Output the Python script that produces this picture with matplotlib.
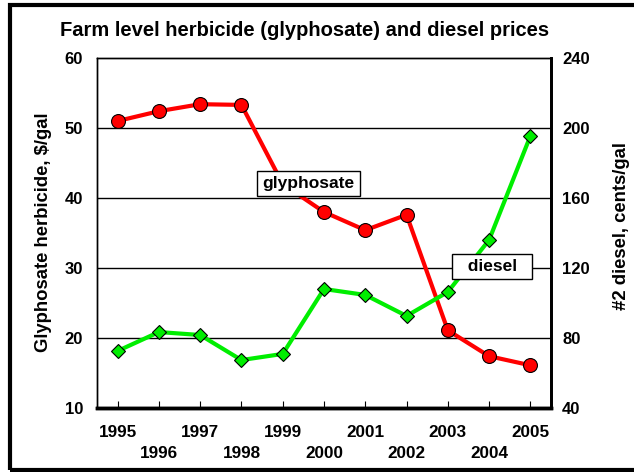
import numpy as np
import matplotlib.pyplot as plt
from matplotlib.patches import Rectangle

# Data
years = [1995, 1996, 1997, 1998, 1999, 2000, 2001, 2002, 2003, 2004, 2005]
glyphosate = [51.0, 52.4, 53.4, 53.3, 42.0, 38.0, 35.4, 37.6, 21.1, 17.4, 16.1]
diesel = [72.6, 83.4, 81.7, 67.4, 70.9, 108.0, 104.6, 92.6, 106.3, 136.0, 195.4]

plt.rcParams['font.family'] = ['Liberation Sans', 'DejaVu Sans']
plt.rcParams['font.weight'] = 'bold'

fig = plt.figure(figsize=(6.34, 4.72), dpi=100)
ax = fig.add_axes([97 / 634, 1 - 408 / 472, 454 / 634, 350 / 472])
ax2 = ax.twinx()

# Gridlines (left axis)
ax.set_ylim(10, 60)
ax.set_yticks([10, 20, 30, 40, 50, 60])
for v in [20, 30, 40, 50]:
    ax.axhline(v, color='black', lw=1, zorder=1)

ax.set_xlim(1994.5, 2005.5)
ax.set_xticks(years)
ax.set_xticklabels([])
ax.tick_params(axis='x', direction='in', length=5, width=0.8)
ax.tick_params(axis='y', length=0, labelsize=12, pad=10)

# Staggered year labels
for i, yr in enumerate(years):
    yy = -0.071 if i % 2 == 0 else -0.131
    ax.text(yr, yy, str(yr), transform=ax.get_xaxis_transform(),
            ha='center', va='center', fontsize=12.3, fontweight='bold')

ax2.set_ylim(40, 240)
ax2.set_yticks([40, 80, 120, 160, 200, 240])
ax2.tick_params(axis='y', length=0, labelsize=12, pad=8)

ax.plot(years, glyphosate, color='#ff0000', lw=3, marker='o', ms=10,
        mfc='#ff0000', mec='black', mew=0.8, zorder=3)
ax2.plot(years, diesel, color='#00ee00', lw=3, marker='D', ms=7,
         mfc='#00ee00', mec='black', mew=0.8, zorder=3)
ax.set_zorder(ax2.get_zorder() - 1)
ax.patch.set_visible(True)
ax2.patch.set_visible(False)

for a in (ax, ax2):
    a.spines['left'].set_linewidth(1)
    a.spines['top'].set_linewidth(1)
    a.spines['right'].set_linewidth(2)
    a.spines['bottom'].set_linewidth(2.5)

# Series labels
ax.text(1999.62, 42.1, 'glyphosate', fontsize=12.5, fontweight='bold',
        ha='center', va='center', zorder=5,
        bbox=dict(boxstyle='square,pad=0.3', fc='white', ec='black', lw=1))
ax2.text(2004.07, 120.9, '  diesel  ', fontsize=12.5, fontweight='bold',
         ha='center', va='center', zorder=5,
         bbox=dict(boxstyle='square,pad=0.3', fc='white', ec='black', lw=1))

fig.text(305 / 634, 1 - 31 / 472, 'Farm level herbicide (glyphosate) and diesel prices',
         ha='center', va='center', fontsize=14.5, fontweight='bold')
fig.text(44 / 634, 1 - 232.5 / 472, 'Glyphosate herbicide, $/gal', rotation=90,
         ha='center', va='center', fontsize=13.3, fontweight='bold')
fig.text(621 / 634, 1 - 226.5 / 472, '#2 diesel, cents/gal', rotation=90,
         ha='center', va='center', fontsize=13.3, fontweight='bold')

# Outer frame
fig.patches.append(Rectangle((10 / 634, 2 / 472), 1.2, 1 - 7 / 472,
                             transform=fig.transFigure, fill=False,
                             ec='black', lw=3, clip_on=False))

fig.savefig('out.png', dpi=100)
